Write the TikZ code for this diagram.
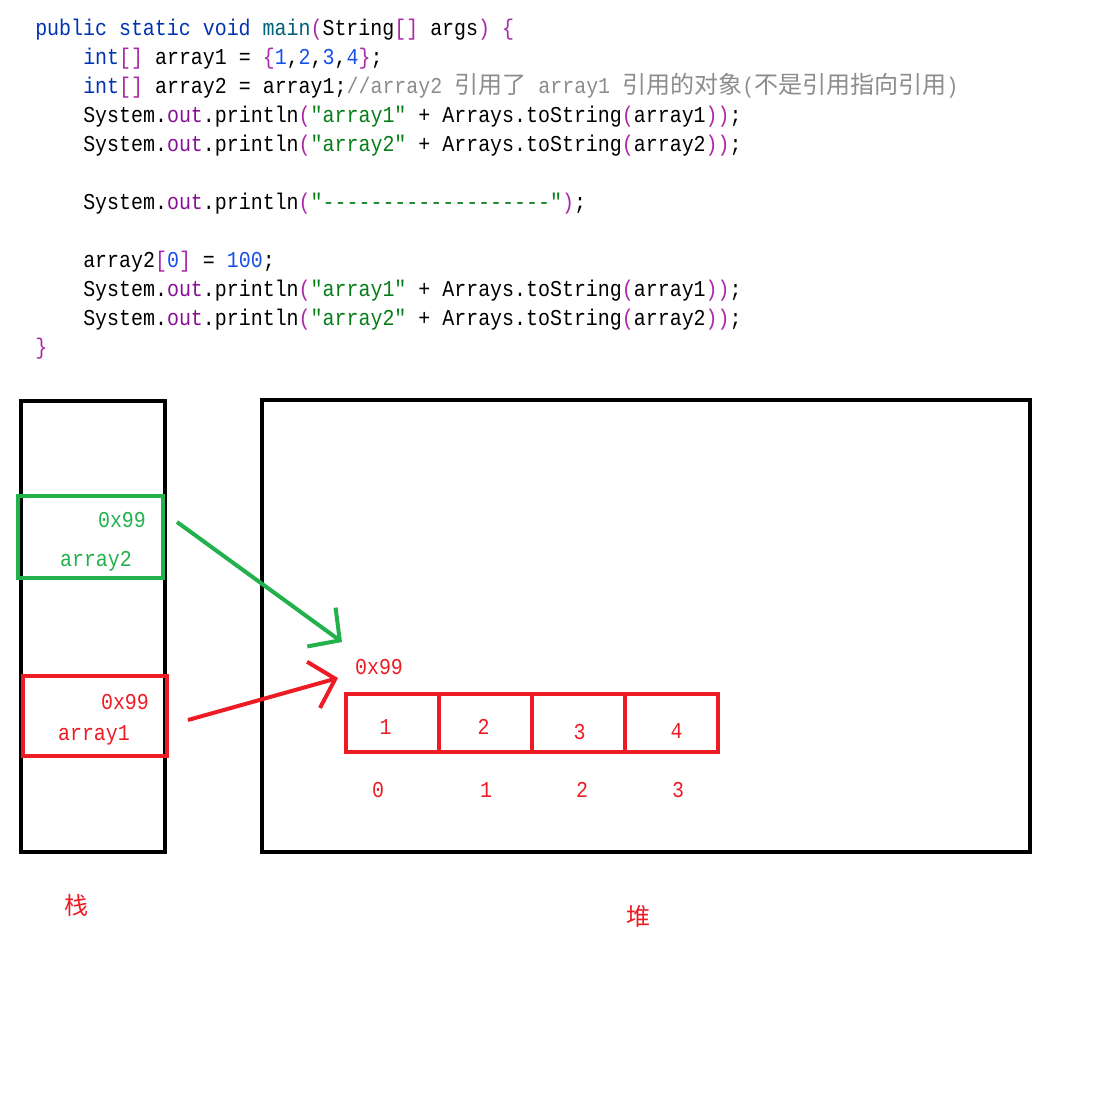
\documentclass[tikz,border=0pt]{standalone}
\usepackage{fontspec}
\usepackage{xcolor}
\usepackage{tikz}
\usetikzlibrary{arrows.meta}
\setmonofont[FakeStretch=0.88]{Liberation Mono}
\newfontfamily\cjk[Scale=1.06]{Noto Sans CJK SC}
\definecolor{CodeKwBlue}{RGB}{0,51,179}
\definecolor{CodeMethTeal}{RGB}{0,98,122}
\definecolor{CodeFieldPurple}{RGB}{135,16,148}
\definecolor{CodeBrkPurple}{RGB}{170,40,170}
\definecolor{CodeStrGreen}{RGB}{6,125,23}
\definecolor{CodeNumBlue}{RGB}{23,80,235}
\definecolor{CodeCmtGray}{RGB}{140,140,140}
\definecolor{MemGreen}{RGB}{34,177,76}
\definecolor{MemRed}{RGB}{237,28,36}
\newcommand{\kw}[1]{\textcolor{CodeKwBlue}{#1}}
\newcommand{\mt}[1]{\textcolor{CodeMethTeal}{#1}}
\newcommand{\fd}[1]{\textcolor{CodeFieldPurple}{#1}}
\newcommand{\bk}[1]{\textcolor{CodeBrkPurple}{#1}}
\newcommand{\st}[1]{\textcolor{CodeStrGreen}{#1}}
\newcommand{\nm}[1]{\textcolor{CodeNumBlue}{#1}}
\newcommand{\cm}[1]{\textcolor{CodeCmtGray}{#1}}

\begin{document}
\begin{tikzpicture}[x=0.75pt,y=-0.75pt,
  codeline/.style={anchor=west,inner sep=0pt,font=\ttfamily\fontsize{17}{20}\selectfont,text height=12pt,text depth=3pt},
  memlabel/.style={inner sep=0pt,font=\ttfamily\fontsize{17}{20}\selectfont,text=#1},
  membox/.style n args={3}{draw=#1,line width=3pt,minimum width=#2*0.75pt,minimum height=#3*0.75pt,inner sep=0pt,rectangle},
  ref/.style={draw=#1,line width=3pt,-{Straight Barb[length=17pt,width=36pt]}}]
\useasboundingbox (0,0) rectangle (1102,1114);
% source code
\node[codeline] (l1) at (35,29) {\kw{public static void} \mt{main}\bk{(}String\bk{[]} args\bk{)} \bk{\{}};
\node[codeline] (l2) at (83,58) {\kw{int}\bk{[]} array1 = \bk{\{}\nm{1},\nm{2},\nm{3},\nm{4}\bk{\}};};
\node[codeline] (l3) at (83,87) {\kw{int}\bk{[]} array2 = array1;\cm{//array2 {\cjk 引用了} array1 {\cjk 引用的对象}({\cjk 不是引用指向引用})}};
\node[codeline] (l4) at (83,116) {System.\fd{out}.println\bk{(}\st{"array1"} + Arrays.toString\bk{(}array1\bk{))};};
\node[codeline] (l5) at (83,145) {System.\fd{out}.println\bk{(}\st{"array2"} + Arrays.toString\bk{(}array2\bk{))};};
\node[codeline] (l6) at (83,203) {System.\fd{out}.println\bk{(}\st{"-------------------"}\bk{)};};
\node[codeline] (l7) at (83,261) {array2\bk{[}\nm{0}\bk{]} = \nm{100};};
\node[codeline] (l8) at (83,290) {System.\fd{out}.println\bk{(}\st{"array1"} + Arrays.toString\bk{(}array1\bk{))};};
\node[codeline] (l9) at (83,319) {System.\fd{out}.println\bk{(}\st{"array2"} + Arrays.toString\bk{(}array2\bk{))};};
\node[codeline] (l10) at (35,348) {\bk{\}}};
% stack and heap
\node[membox={black}{144}{451}] (stack) at (93,626.5) {};
\node[membox={black}{768}{452}] (heap) at (646,626) {};
\node[membox={MemGreen}{145}{82}] (a2box) at (90.5,537) {};
\node[memlabel=MemGreen] (a2addr) at (122,520) {0x99};
\node[memlabel=MemGreen] (a2name) at (96,561) {array2};
\node[membox={MemRed}{144}{80}] (a1box) at (95,716) {};
\node[memlabel=MemRed] (a1addr) at (125,702) {0x99};
\node[memlabel=MemRed] (a1name) at (94,735) {array1};
% array object
\node[memlabel=MemRed] (objaddr) at (379,667) {0x99};
\foreach \i/\v/\dx/\dy in {0/1/-7/4,1/2/-2/4,2/3/1/9,3/4/5/8} {
  \node[membox={MemRed}{93}{58}] (cell\i) at (392.5+93*\i,723) {};
  \node[memlabel=MemRed] (val\i) at (392.5+93*\i+\dx,723+\dy) {\v};
}
\foreach \i/\x in {0/378,1/486,2/582,3/678} {
  \node[memlabel=MemRed] (idx\i) at (\x,790) {\i};
}
\node[memlabel=MemRed,font=\cjk\fontsize{17}{20}\selectfont] (stackname) at (77,905) {栈};
\node[memlabel=MemRed,font=\cjk\fontsize{17}{20}\selectfont] (heapname) at (639,916) {堆};
% references
\coordinate (a2tail) at (177,522);
\coordinate (a2tip) at (342,642);
\coordinate (a1tail) at (188,720);
\coordinate (a1tip) at (338,678);
\draw[ref=MemGreen] (a2tail) -- (a2tip);
\draw[ref=MemRed] (a1tail) -- (a1tip);
\end{tikzpicture}
\end{document}
